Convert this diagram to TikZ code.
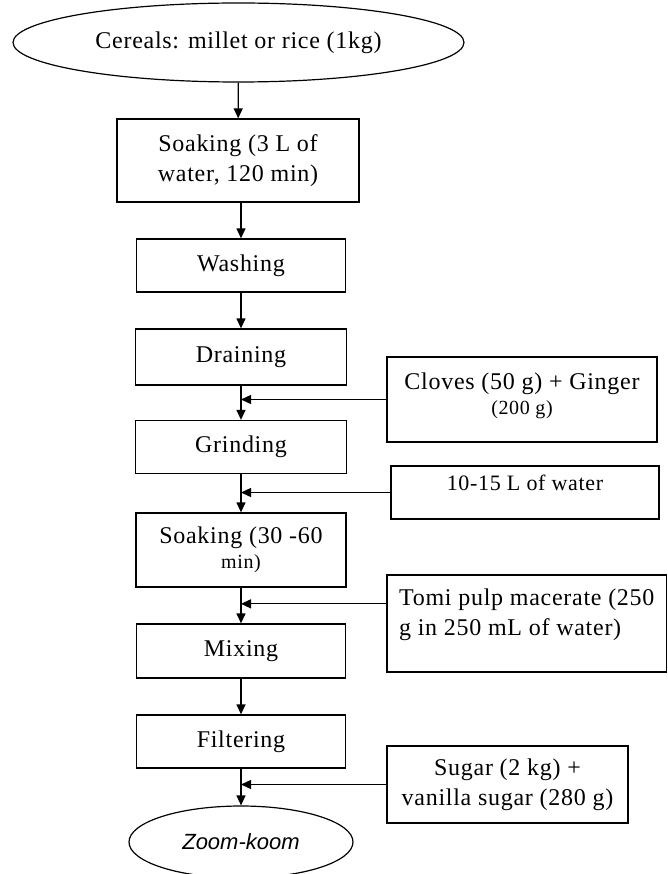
\documentclass[tikz,border=0pt]{standalone}
\usepackage{fontspec}
\setmainfont{Liberation Serif}[LetterSpace=3]
\newfontfamily\endfont{Liberation Sans}
\usepackage{tikz}
\usetikzlibrary{shapes,arrows,arrows.meta,positioning,fit,calc}

\tikzset{
  procbox/.style={draw, line width=1.3pt, rectangle, align=center, minimum height=53pt, inner sep=2pt, font=\fontsize{24}{30}\selectfont},
  addbox/.style={procbox},
  endpoint/.style={draw, line width=1.2pt, ellipse, align=center, inner sep=0pt, font=\fontsize{24}{30}\selectfont},
  flow/.style={line width=1.3pt, -{Triangle[length=10pt,width=9pt]}}
}
\newcommand{\smalltext}[1]{{\fontsize{20}{24}\selectfont #1}}

\begin{document}
\begin{tikzpicture}[x=1pt,y=-1pt]
\useasboundingbox (0,0) rectangle (668,874);

% main line
\node[endpoint, minimum width=451pt, minimum height=79pt] (cereals) at (238.5,42.5) {Cereals: millet or rice (1kg)};
\node[procbox, minimum width=242pt, minimum height=83pt] (soak1) at (238,160.5) {Soaking (3 L of\\water, 120 min)};
\node[procbox, minimum width=209pt] (wash) at (241,265.5) {Washing};
\node[procbox, minimum width=211pt, minimum height=56pt] (drain) at (241,357) {Draining};
\node[procbox, minimum width=211pt] (grind) at (241,447) {Grinding};
\node[procbox, minimum width=210pt, minimum height=74pt] (soak2) at (241,550) {Soaking (30 -60\\[-5pt]\smalltext{min)}};
\node[procbox, minimum width=209pt, minimum height=54pt] (mix) at (241,651) {Mixing};
\node[procbox, minimum width=209pt] (filter) at (241,741.5) {Filtering};
\node[endpoint, minimum width=224pt, minimum height=72pt, font=\endfont\itshape\fontsize{22}{26}\selectfont] (zoomkoom) at (241,842) {Zoom-koom};

% what goes in from the side
\node[addbox, minimum width=270pt, minimum height=85pt, text depth=12pt] (cloves) at (522,399.5) {Cloves (50 g) + Ginger\\[-5pt]\smalltext{(200 g)}};
\node[addbox, minimum width=268pt, text depth=20pt, font=\fontsize{22}{26}\selectfont] (water) at (525,492.5) {10-15 L of water};
\node[addbox, minimum width=279.5pt, minimum height=97pt, align=left, text depth=22pt] (tomi) at (526.75,623.5) {Tomi pulp macerate (250\\g in 250 mL of water)};
\node[addbox, minimum width=241pt, minimum height=77pt] (sugar) at (507.5,784.5) {Sugar (2 kg) +\\vanilla sugar (280 g)};

% joins on the main line
\coordinate (clovesin) at (cloves.west -| drain.south);
\coordinate (waterin) at (water.west -| grind.south);
\coordinate (tomiout) at ($(tomi.north west)!0.3!(tomi.south west)$);
\coordinate (tomiin) at (tomiout -| soak2.south);
\coordinate (sugarin) at (sugar.west -| filter.south);

\draw[flow] (cereals) -- (soak1);
\draw[flow] (soak1.south -| wash.north) -- (wash.north);
\draw[flow] (wash) -- (drain);
\draw[flow] (drain) -- (grind);
\draw[flow] (grind) -- (soak2);
\draw[flow] (soak2) -- (mix);
\draw[flow] (mix) -- (filter);
\draw[flow] (filter) -- (zoomkoom);

\draw[flow] (cloves.west) -- (clovesin);
\draw[flow] (water.west) -- (waterin);
\draw[flow] (tomiout) -- (tomiin);
\draw[flow] (sugar.west) -- (sugarin);
\end{tikzpicture}
\end{document}
